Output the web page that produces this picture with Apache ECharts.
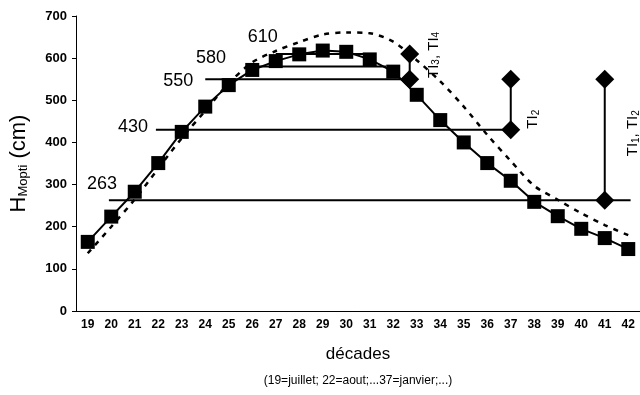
<!DOCTYPE html>
<html>
<head>
<meta charset="utf-8">
<script src="https://cdn.jsdelivr.net/npm/echarts@6/dist/echarts.min.js"></script>
<style>
html, body { margin: 0; padding: 0; background: #fff; }
#chart { width: 640px; height: 395px; }
</style>
</head>
<body>
<div id="chart"></div>
<script>
// décades (x categories)
var decades = ['19', '20', '21', '22', '23', '24', '25', '26', '27', '28', '29', '30',
               '31', '32', '33', '34', '35', '36', '37', '38', '39', '40', '41', '42'];
// hauteurs observées (carrés)
var observed = [164, 224, 283, 351, 425, 485, 536, 572, 593, 609, 618, 615,
                597, 568, 513, 453, 400, 351, 309, 259, 225, 195, 173, 147];
// courbe en pointillés
var simulated = [137, 200, 265, 338, 410, 475, 540, 590, 617, 638, 656, 661,
                 659, 639, 595, 545, 485, 418, 356, 297, 264, 232, 204, 180];
// seuils horizontaux
var thresholds = [263, 430, 550, 580, 610];
var thresholdStart = [19.9, 21.9, 24, 26.2, 27];
var thresholdEnd = [42.1, 37, 32.7, 31.7, 31];
// TI (losanges)
var tiDecade = [32.7, 37, 41];
var tiLow = [550, 430, 263];
var tiHigh = [610, 550, 550];
var tiNames = ['TI{s|3}, TI{s|4}', 'TI{s|2}', 'TI{s|1}, TI{s|2}'];

var chart = echarts.init(document.getElementById('chart'));

var series = [];
series.push({
    name: 'simulé',
    type: 'line',
    xAxisIndex: 1,
    smooth: 0.3,
    symbol: 'none',
    data: decades.map(function (d, i) { return [+d, simulated[i]]; }),
    lineStyle: { color: '#000', width: 2.5, type: [5, 6] },
    z: 2
});
thresholds.forEach(function (t, i) {
    series.push({
        type: 'line',
        xAxisIndex: 1,
        symbol: 'none',
        data: [[thresholdStart[i], t], [thresholdEnd[i], t]],
        lineStyle: { color: '#000', width: 2 },
        z: 3
    });
});
series.push({
    name: 'observé',
    type: 'line',
    xAxisIndex: 1,
    symbol: 'rect',
    symbolSize: 14,
    data: decades.map(function (d, i) { return [+d, observed[i]]; }),
    lineStyle: { color: '#000', width: 2 },
    itemStyle: { color: '#000' },
    z: 5
});
tiDecade.forEach(function (x, i) {
    series.push({
        type: 'line',
        xAxisIndex: 1,
        symbol: 'diamond',
        symbolSize: 19,
        data: [[x, tiLow[i]], [x, tiHigh[i]]],
        lineStyle: { color: '#000', width: 2 },
        itemStyle: { color: '#000' },
        z: 6
    });
});

var option = {
    backgroundColor: '#fff',
    animation: false,
    grid: { left: 75, top: 16, width: 569, bottom: 84 },
    xAxis: [{
        type: 'category',
        data: decades,
        boundaryGap: true,
        name: 'décades',
        nameLocation: 'middle',
        nameGap: 35,
        nameTextStyle: { fontFamily: 'Arial', fontSize: 17, color: '#000' },
        axisLine: { lineStyle: { color: '#000', width: 1 } },
        axisTick: { interval: 0, length: 4, lineStyle: { color: '#000' } },
        axisLabel: { interval: 0, margin: 8, fontFamily: 'Arial', fontWeight: 'bold', fontSize: 12, color: '#000' }
    }, {
        type: 'value',
        min: 18.5,
        max: 42.5,
        show: false
    }],
    yAxis: {
        type: 'value',
        min: 0,
        max: 700,
        interval: 100,
        name: '{h|H}{s|Mopti}{h| (cm)}',
        nameLocation: 'middle',
        nameRotate: 90,
        nameGap: 46,
        nameTextStyle: {
            rich: {
                h: { fontFamily: 'Arial', fontSize: 22, color: '#000' },
                s: { fontFamily: 'Arial', fontSize: 13, color: '#000', padding: [9, 0, 0, 0] }
            }
        },
        splitLine: { show: false },
        axisLine: { show: true, lineStyle: { color: '#000', width: 1 } },
        axisTick: { show: true, length: 4, lineStyle: { color: '#000' } },
        axisLabel: { margin: 9, fontFamily: 'Arial', fontWeight: 'bold', fontSize: 13, color: '#000' }
    },
    series: series
};
chart.setOption(option);

// textes : seuils, TI et légende des décades
var px = function (x, y) { return chart.convertToPixel({ seriesIndex: 0 }, [x, y]); };
var thrOffsets = [[-7, -16], [-23, -3], [-27, 2], [-46, -9], [-13, -17]];
var tiOffsets = [[24, 1], [22, 40], [28, 54]];
var graphics = [];
thresholds.forEach(function (t, i) {
    var p = px(thresholdStart[i], t);
    graphics.push({
        type: 'text',
        x: p[0] + thrOffsets[i][0],
        y: p[1] + thrOffsets[i][1],
        style: { text: String(t), fontFamily: 'Arial', fontSize: 18, fill: '#000', align: 'center', verticalAlign: 'middle' }
    });
});
tiDecade.forEach(function (x, i) {
    var p = px(x, tiHigh[i]);
    graphics.push({
        type: 'text',
        x: p[0] + tiOffsets[i][0],
        y: p[1] + tiOffsets[i][1],
        rotation: Math.PI / 2,
        style: {
            text: tiNames[i], fontFamily: 'Arial', fontSize: 15, fill: '#000',
            align: 'center', verticalAlign: 'middle',
            rich: { s: { fontFamily: 'Arial', fontSize: 10, fill: '#000', padding: [6, 0, 0, 0] } }
        }
    });
});
graphics.push({
    type: 'text',
    x: 358,
    y: 381,
    style: { text: '(19=juillet; 22=aout;...37=janvier;...)', fontFamily: 'Arial', fontSize: 12, fill: '#000', align: 'center', verticalAlign: 'middle' }
});
chart.setOption({ graphic: graphics });
</script>
</body>
</html>
